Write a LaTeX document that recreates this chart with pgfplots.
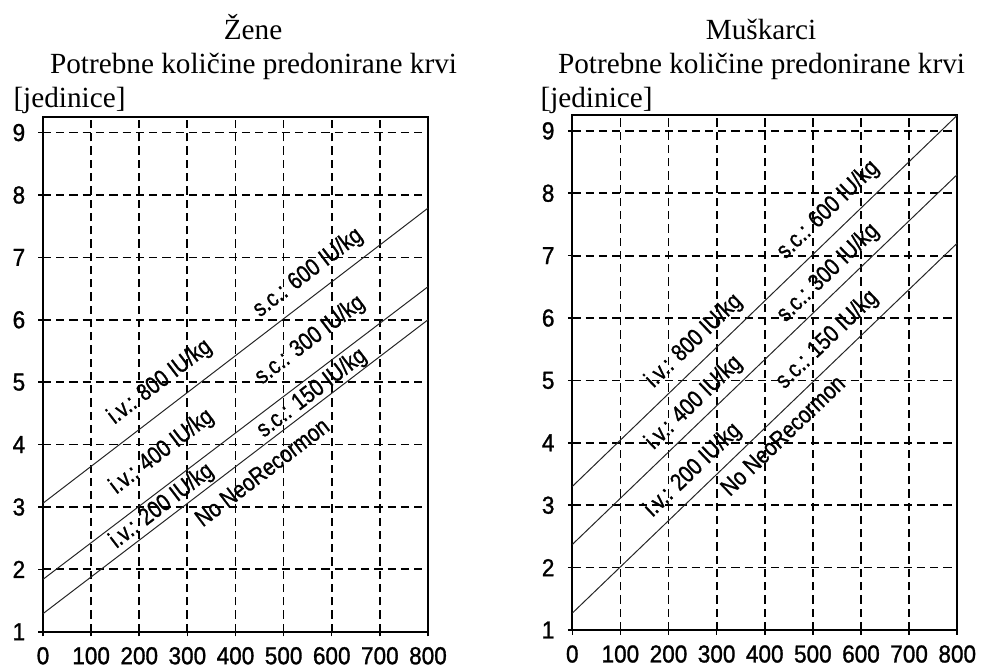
\documentclass[border=0pt]{standalone}
\usepackage{pgfplots}
\pgfplotsset{compat=1.18}
\usepackage{fontspec}
\setmainfont{Liberation Serif}
\setsansfont{Liberation Sans}
\newfontfamily\tickf[FakeStretch=0.92,FakeBold=1.2]{Liberation Sans}
\newfontfamily\lab[FakeStretch=0.84,FakeBold=1.0]{Liberation Sans}

\pgfplotsset{
 myax/.style={
  scale only axis, width=154pt, height=205.9pt,
  xmin=0,xmax=800,ymin=1,ymax=9.25,
  xtick={0,100,...,800}, ytick={1,...,9},
  grid=major,
  major grid style={black, line width=0.7pt, dash pattern=on 3.3pt off 2pt},
  axis line style={line width=0.8pt},
  tick align=outside, major tick length=1.8pt,
  tick style={black, line width=0.6pt},
  tick pos=left,
  tick label style={font=\tickf\fontsize{9.8}{11}\selectfont},
  /pgf/number format/assume math mode=true,
  xticklabel style={yshift=-0.8pt},
  yticklabel style={xshift=-1.8pt},
 },
}
\tikzset{
 lbl/.style={font=\lab\fontsize{9.6}{11}\selectfont, inner sep=0pt},
 ln/.style={black!85, line width=0.4pt},
}

\begin{document}
\begin{tikzpicture}
\path[use as bounding box] (-17.2pt,-15.3pt) rectangle (375.2pt,252.7pt);

% Left: Zene
\begin{axis}[myax, at={(0pt,0pt)}, anchor=south west]
\addplot[ln] coordinates {(0,1.29) (800,6.00)};
\addplot[ln] coordinates {(0,1.84) (800,6.53)};
\addplot[ln] coordinates {(0,3.06) (800,7.79)};
\node[lbl, rotate=37.4] at (axis cs:243,5.00) {i.v.: 800 IU/kg};
\node[lbl, rotate=37.4] at (axis cs:551,6.75) {s.c.: 600 IU/kg};
\node[lbl, rotate=37.4] at (axis cs:247,3.88) {i.v.: 400 IU/kg};
\node[lbl, rotate=37.4] at (axis cs:555,5.67) {s.c.: 300 IU/kg};
\node[lbl, rotate=37.4] at (axis cs:247,3.01) {i.v.: 200 IU/kg};
\node[lbl, rotate=37.4] at (axis cs:559,4.82) {s.c.: 150 IU/kg};
\node[lbl, rotate=37.4] at (axis cs:455,3.56) {No NeoRecormon};
\end{axis}

% Right: Muskarci
\begin{axis}[myax, at={(211.7pt,0.7pt)}, anchor=south west]
\addplot[ln] coordinates {(0,1.27) (800,7.20)};
\addplot[ln] coordinates {(0,2.37) (800,8.30)};
\addplot[ln] coordinates {(0,3.30) (800,9.25)};
\node[lbl, rotate=43.8] at (axis cs:253,5.63) {i.v.: 800 IU/kg};
\node[lbl, rotate=43.8] at (axis cs:253,4.64) {i.v.: 400 IU/kg};
\node[lbl, rotate=43.8] at (axis cs:251,3.56) {i.v.: 200 IU/kg};
\node[lbl, rotate=43.8] at (axis cs:437,4.12) {No NeoRecormon};
\node[lbl, rotate=43.8] at (axis cs:532,7.73) {s.c.: 600 IU/kg};
\node[lbl, rotate=43.8] at (axis cs:532,6.72) {s.c.: 300 IU/kg};
\node[lbl, rotate=43.8] at (axis cs:530,5.65) {s.c.: 150 IU/kg};
\end{axis}

\begin{scope}[every node/.style={inner sep=0pt, font=\fontsize{11.7}{14}\selectfont}]
\node[anchor=base] at (84.0pt,236.7pt) {Žene};
\node[anchor=base] at (84.2pt,223.3pt) {Potrebne količine predonirane krvi};
\node[anchor=base west] at (-12pt,209.5pt) {[jedinice]};
\node[anchor=base] at (287.2pt,236.7pt) {Muškarci};
\node[anchor=base] at (287.4pt,223.3pt) {Potrebne količine predonirane krvi};
\node[anchor=base west] at (198.8pt,209.5pt) {[jedinice]};
\end{scope}
\end{tikzpicture}
\end{document}
